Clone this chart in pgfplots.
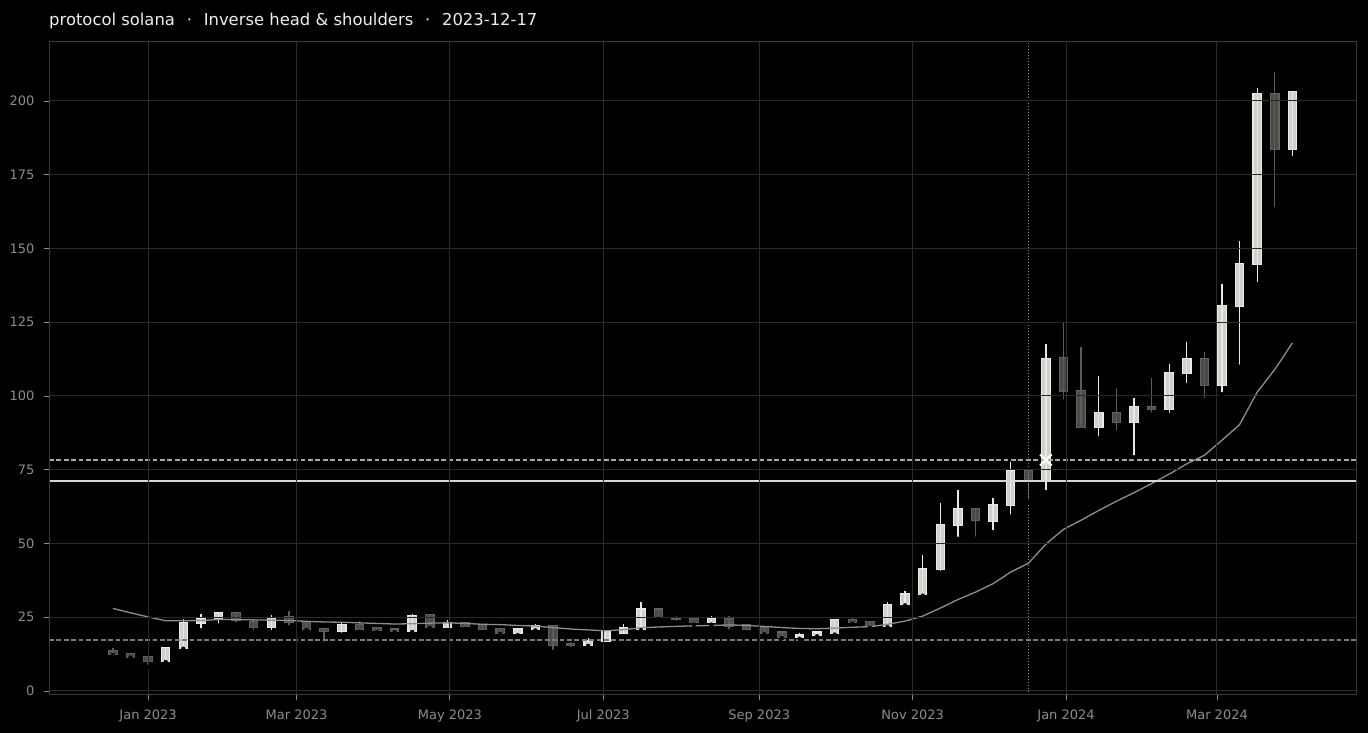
\documentclass[border=0pt]{standalone}
\usepackage{fontspec}
\setmainfont{DejaVu Sans}
\usepackage{pgfplots}
\pgfplotsset{compat=1.18}
\usepgfplotslibrary{statistics}
\usepackage{pgfplotstable}

\definecolor{bg}{HTML}{000000}
\definecolor{gridc}{HTML}{2A2A2A}
\definecolor{framec}{HTML}{3A3A3A}
\definecolor{tickc}{HTML}{8C8C8C}
\definecolor{titlec}{HTML}{EEEEEE}
\definecolor{upfill}{HTML}{D0D0CC}
\definecolor{upedge}{HTML}{ECECE8}
\definecolor{dnfill}{HTML}{4A4A46}
\definecolor{dnedge}{HTML}{62625E}
\definecolor{upwick}{HTML}{E8E8E4}
\definecolor{dnwick}{HTML}{5C5C58}
\definecolor{mac}{HTML}{8E8E8E}
\definecolor{lvlsolid}{HTML}{D6D6D6}
\definecolor{lvlup}{HTML}{A8A8A8}
\definecolor{lvldn}{HTML}{7A7A7A}
\definecolor{vline}{HTML}{8A8A8A}
\definecolor{markc}{HTML}{F6F6F3}

% weekly candles, x = days since 2023-01-01
\pgfplotstableread{
x o c h l
7 10.0 14.7 15.0 9.8
14 14.5 23.3 24.4 14.3
21 23.0 24.6 26.2 20.6
28 24.3 26.7 26.9 22.2
49 21.5 24.9 25.6 19.9
77 20.1 22.4 22.9 19.0
105 20.1 25.5 26.0 20.0
119 21.5 23.3 24.1 20.7
147 19.5 21.2 21.4 18.9
154 20.9 22.3 22.6 20.5
175 15.5 17.2 17.8 15.3
182 16.7 20.1 20.3 15.8
189 19.4 21.6 22.7 18.5
196 21.0 27.8 30.0 20.6
224 23.3 24.7 25.4 22.5
259 18.3 19.3 19.8 17.7
266 18.7 20.0 20.5 18.5
273 19.5 24.3 24.5 19.1
294 21.8 29.4 30.1 21.6
301 29.3 33.1 34.0 29.0
308 32.8 41.6 46.1 32.3
315 41.3 56.5 63.6 39.9
322 56.0 61.9 68.0 51.6
336 57.4 63.3 65.3 53.8
343 62.8 74.9 77.5 59.1
357 71.2 112.8 117.5 67.4
378 89.3 94.5 106.9 85.6
392 91.1 96.4 99.4 79.2
406 95.5 108.0 110.7 93.6
413 107.7 112.8 118.4 103.7
427 103.5 130.7 137.9 100.6
434 130.3 145.0 152.5 109.9
441 144.6 202.6 204.3 137.9
455 183.6 203.3 203.5 180.6
}\uptab

\pgfplotstableread{
x o c h l
-14 13.8 12.5 14.7 12.1
-7 12.8 11.5 13.0 11.3
0 11.8 10.0 12.0 8.2
35 26.7 23.8 26.9 22.6
42 23.7 21.6 24.0 19.9
56 25.3 23.3 27.1 21.6
63 23.5 20.9 23.6 20.7
70 21.2 20.2 21.4 16.1
84 22.4 20.8 23.8 20.1
91 21.4 20.6 21.8 20.0
98 21.0 20.2 21.2 19.9
112 25.8 21.5 26.0 21.3
126 23.3 21.9 23.5 21.1
133 22.4 20.8 22.6 19.9
140 21.2 19.5 21.5 19.3
161 22.3 15.5 22.5 13.3
168 16.0 15.5 16.7 14.1
203 27.8 24.8 28.3 24.4
210 24.7 24.2 25.5 23.1
217 24.7 23.3 24.9 22.5
231 24.7 21.9 25.3 20.2
238 22.4 20.8 22.6 19.8
245 21.4 19.4 22.1 19.2
252 20.0 18.1 20.2 17.9
280 24.3 23.3 24.7 22.8
287 23.6 22.0 23.8 21.4
329 61.9 57.8 62.1 51.6
350 74.9 71.2 75.2 64.2
364 113.1 101.5 125.2 98.1
371 102.0 89.3 116.7 88.5
385 94.5 91.1 102.8 87.7
399 96.4 95.5 106.2 93.6
420 112.8 103.5 114.8 98.6
448 202.6 183.6 209.7 163.3
}\dntab

\pgfplotstableread{
x ma
-14 28.0
-7 26.5
0 25.1
7 23.8
14 23.8
21 23.9
28 24.2
35 24.2
42 24.1
49 24.0
56 23.9
63 23.6
70 23.4
77 23.3
84 23.1
91 22.9
98 22.7
105 22.8
112 23.0
119 23.1
126 22.9
133 22.6
140 22.5
147 22.2
154 22.0
161 21.5
168 21.0
175 20.7
182 20.4
189 20.8
196 21.4
203 21.7
210 21.9
217 22.1
224 22.2
231 22.4
238 22.2
245 21.9
252 21.5
259 21.2
266 21.1
273 21.3
280 21.6
287 21.8
294 22.6
301 23.7
308 25.4
315 28.1
322 31.0
329 33.5
336 36.4
343 40.3
350 43.3
357 49.8
364 54.8
371 57.9
378 61.2
385 64.3
392 67.2
399 70.3
406 73.5
413 77.0
420 79.9
427 85.0
434 90.3
441 101.3
448 109.0
455 118.0
}\matab

\pgfplotsset{
  candle/.style={forget plot, line width=1.1pt,
    boxplot/draw direction=y,
    boxplot/box extend=3.35, boxplot/whisker extend=0,
    boxplot/every median/.style={draw=none},
    boxplot/every whisker/.style={draw=none}},
  upcandle/.style={candle, draw=upedge, fill=upfill},
  dncandle/.style={candle, draw=dnedge, fill=dnfill},
}

\newcommand\drawcandles[2]{%
  \pgfplotstablegetrowsof{#1}%
  \pgfmathtruncatemacro\candN{\pgfplotsretval-1}%
  \pgfplotsforeachungrouped \candI in {0,...,\candN}{%
    \pgfplotstablegetelem{\candI}{x}\of#1\let\candX\pgfplotsretval
    \pgfplotstablegetelem{\candI}{o}\of#1\let\candO\pgfplotsretval
    \pgfplotstablegetelem{\candI}{c}\of#1\let\candC\pgfplotsretval
    \pgfplotstablegetelem{\candI}{h}\of#1\let\candH\pgfplotsretval
    \pgfplotstablegetelem{\candI}{l}\of#1\let\candL\pgfplotsretval
    \pgfmathsetmacro\candLo{min(\candO,\candC)}%
    \pgfmathsetmacro\candHi{max(\candO,\candC)}%
    \edef\candCmd{\noexpand\addplot[#2, boxplot prepared={draw position=\candX,
      lower whisker=\candL, lower quartile=\candLo, median=\candLo,
      upper quartile=\candHi, upper whisker=\candH}] coordinates {};}%
    \candCmd
  }%
}

\begin{document}
\begin{tikzpicture}
\fill[bg] (-49pt,-38pt) rectangle (1319pt,695pt);
\node[anchor=base west, inner sep=0pt, text=titlec, font=\fontsize{16.4}{19}\selectfont]
  at (0pt,669pt) {protocol solana\hspace{0.72em}·\hspace{0.72em}Inverse head \& shoulders\hspace{0.72em}·\hspace{0.72em}2023-12-17};
\begin{axis}[
  at={(0pt,0pt)}, anchor=south west,
  scale only axis, width=1307pt, height=653pt,
  xmin=-39.4, xmax=480.3, ymin=-1.36, ymax=220,
  axis on top,
  axis line style={framec, line width=1pt},
  grid=major, grid style={gridc, line width=1pt},
  xtick={0,59,120,181,243,304,365,425},
  xticklabels={Jan 2023, Mar 2023, May 2023, Jul 2023, Sep 2023, Nov 2023, Jan 2024, Mar 2024},
  ytick={0,25,...,200},
  tick align=outside, major tick length=5pt,
  tick style={tickc, line width=0.8pt},
  tick pos=left,
  tick label style={font=\fontsize{13}{15}\selectfont, text=tickc},
  xticklabel style={yshift=-6pt},
  yticklabel style={xshift=-6pt},
  /pgf/number format/assume math mode=true,
  clip=true,
]
\drawcandles{\uptab}{upcandle}
\drawcandles{\dntab}{dncandle}
% wicks
\addplot[only marks, mark=none, forget plot,
  error bars/.cd, y dir=plus, y explicit, error mark=none,
  error bar style={draw=upwick, line width=1.3pt}]
  table[x=x, y=l, y error expr={\thisrow{h}-\thisrow{l}}] {\uptab};
\addplot[only marks, mark=none, forget plot,
  error bars/.cd, y dir=plus, y explicit, error mark=none,
  error bar style={draw=dnwick, line width=1.3pt}]
  table[x=x, y=l, y error expr={\thisrow{h}-\thisrow{l}}] {\dntab};
% moving average
\addplot[mac, line width=1.3pt, mark=none] table[x=x, y=ma] {\matab};
% levels
\addplot[lvlsolid, line width=1.5pt, mark=none] coordinates {(-39.4,71.2) (480.3,71.2)};
\addplot[lvlup, line width=1.5pt, dash pattern=on 4.8pt off 2.6pt, mark=none] coordinates {(-39.4,78.3) (480.3,78.3)};
\addplot[lvldn, line width=1.5pt, dash pattern=on 4.8pt off 2.6pt, mark=none] coordinates {(-39.4,17.3) (480.3,17.3)};
% pattern date
\addplot[vline, line width=1pt, dash pattern=on 1pt off 2pt, mark=none] coordinates {(350,-1.36) (350,220)};
% breakout marker
\addplot[only marks, mark=x, mark size=8pt, mark options={draw=markc, line width=2.4pt}] coordinates {(357,78.3)};
\end{axis}
\end{tikzpicture}
\end{document}
